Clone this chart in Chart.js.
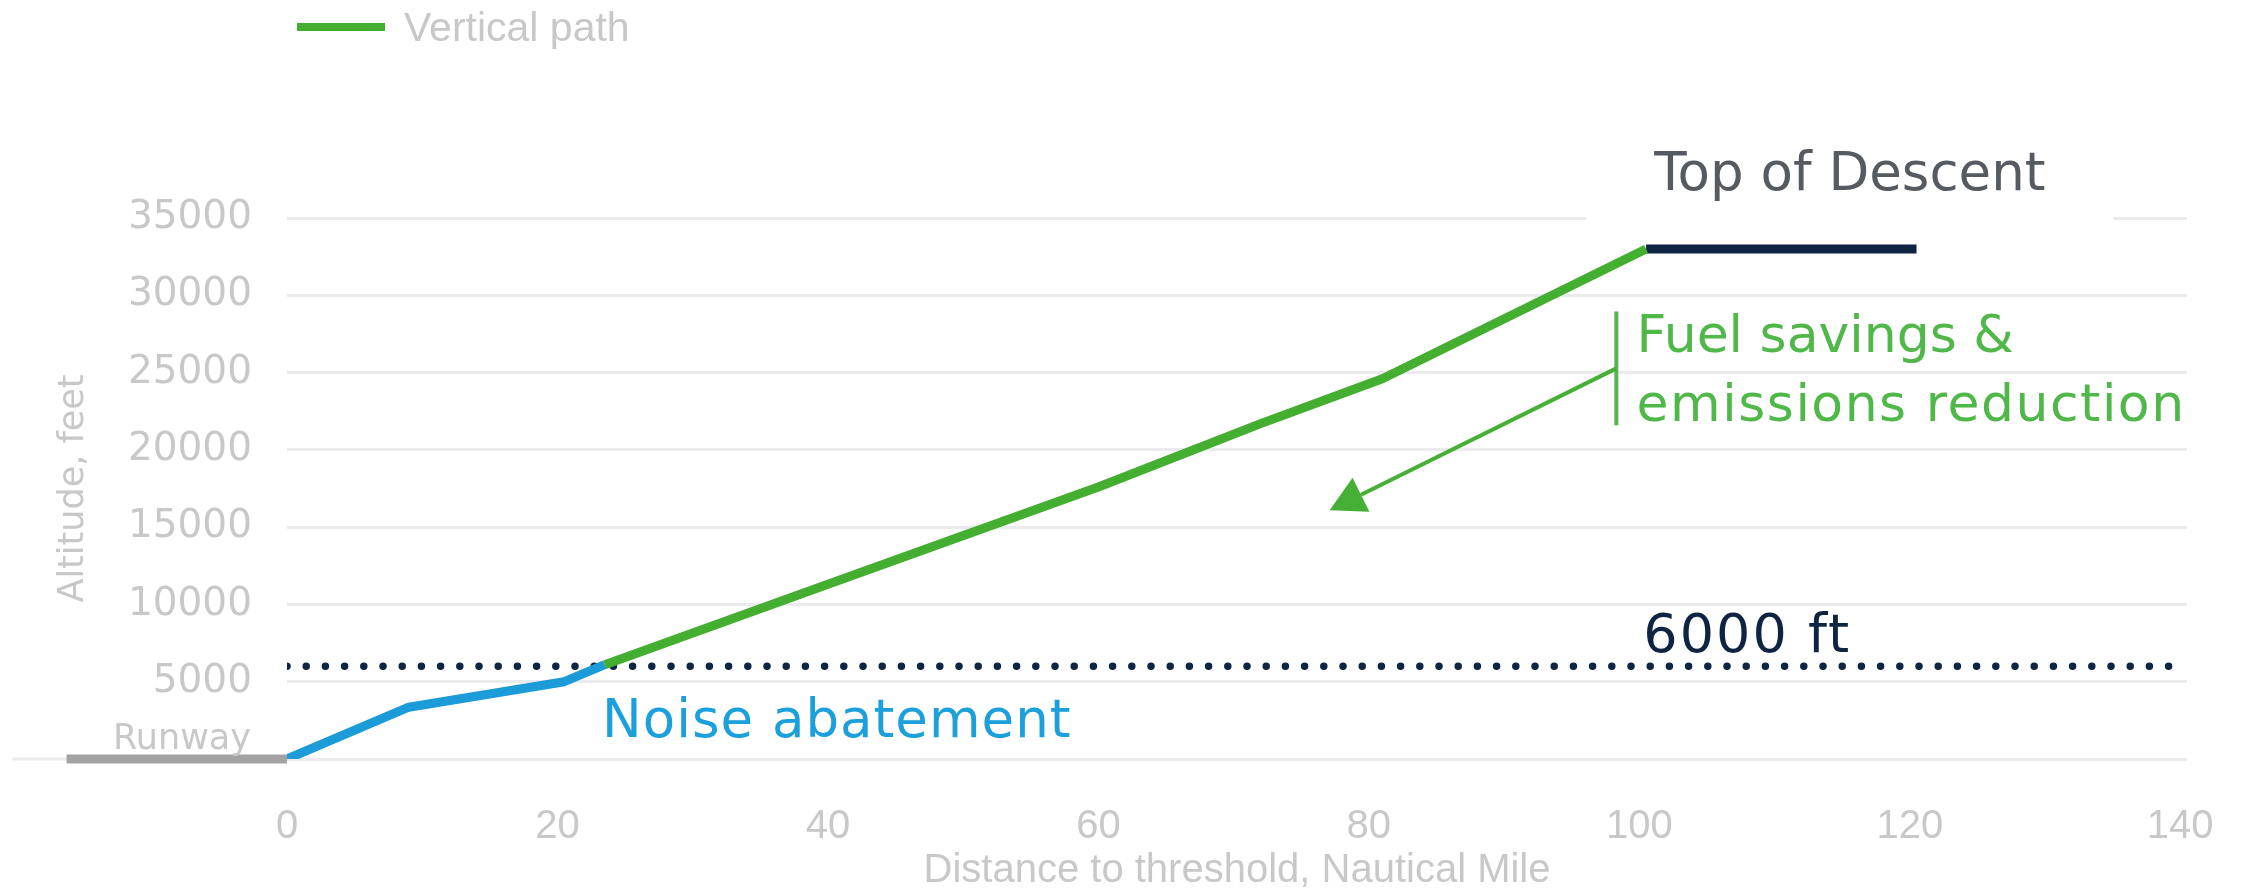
<!DOCTYPE html>
<html>
<head>
<meta charset="utf-8">
<title>Vertical path</title>
<script src="https://cdn.jsdelivr.net/npm/chart.js@4.4.1/dist/chart.umd.min.js"></script>
<style>
  html, body { margin: 0; padding: 0; background: #fff; }
  #wrap { width: 2246px; height: 889px; }
</style>
</head>
<body>
<div id="wrap"><canvas id="pathChart" width="2246" height="889"></canvas></div>
<script>
// distance to threshold (NM) / altitude (ft)
const climbDist = [23.5, 40, 60, 72, 81, 100.5];
const climbAlt = [6100, 11300, 17600, 21700, 24600, 33000];
const noiseDist = [0, 9, 20.5, 23.5];
const noiseAlt = [0, 3350, 5000, 6100];
const todDist = [100.5, 120.5];
const todAlt = [33000, 33000];
const runwayDist = [-16.3, 0];
const runwayAlt = [0, 0];
const limitDist = [0, 140.5];
const limitAlt = [6000, 6000];

const xTicks = [0, 20, 40, 60, 80, 100, 120, 140];
const yTicks = [0, 5000, 10000, 15000, 20000, 25000, 30000, 35000];

const GREEN = '#43ae2f';
const BLUE = '#1b9bd7';
const NAVY = '#0e2442';
const LIGHT = '#c8c8c8';

function points(xs, ys) {
    return xs.map((x, i) => ({ x: x, y: ys[i] }));
}

function drawText(ctx, text, x, y, font, color, align, spacing) {
    ctx.save();
    ctx.font = font;
    ctx.fillStyle = color;
    ctx.textAlign = align || 'left';
    ctx.textBaseline = 'alphabetic';
    if ('letterSpacing' in ctx) ctx.letterSpacing = (spacing || 0) + 'px';
    ctx.fillText(text, x, y);
    ctx.restore();
}

// labels, bracket and arrow placed in data units
const notes = {
    top: { x: 101.1, y: 36780 },
    limit: { x: 100.3, y: 6916 },
    noise: { x: 23.3, y: 1422 },
    fuel: { x: 99.8, y1: 26307, y2: 21847 },
    bracket: { x: 98.3, y1: 28957, y2: 21589 },
    arrow: { x1: 98.3, y1: 25273, x2: 77.1, y2: 16095 }
};

const annotations = {
    id: 'annotations',
    beforeDatasetsDraw(chart) {
        const ctx = chart.ctx;
        const xs = chart.scales.x, ys = chart.scales.y;
        const y0 = ys.getPixelForValue(0);
        // zero line runs on under the runway
        ctx.save();
        ctx.strokeStyle = '#ebebed';
        ctx.lineWidth = 3;
        ctx.beginPath();
        ctx.moveTo(xs.getPixelForValue(-20.3), y0);
        ctx.lineTo(chart.chartArea.left, y0);
        ctx.stroke();
        // white box behind the Top of Descent label
        ctx.fillStyle = '#fff';
        const tx = xs.getPixelForValue(notes.top.x);
        ctx.fillRect(tx - 68, ys.getPixelForValue(35000) - 6, 527, 12);
        ctx.restore();
    },
    afterDraw(chart) {
        const ctx = chart.ctx;
        const xs = chart.scales.x, ys = chart.scales.y;
        const px = v => xs.getPixelForValue(v);
        const py = v => ys.getPixelForValue(v);

        // legend
        const ds = chart.data.datasets[0];
        ctx.save();
        ctx.strokeStyle = ds.borderColor;
        ctx.lineWidth = 8;
        ctx.beginPath();
        ctx.moveTo(297, 27);
        ctx.lineTo(385, 27);
        ctx.stroke();
        ctx.restore();
        drawText(ctx, ds.label, 404, 41, '41px "Liberation Sans", Arial, sans-serif', LIGHT);

        // runway label beside the axis
        drawText(ctx, 'Runway', chart.chartArea.left - 36, py(0) - 10, '35px "DejaVu Sans", sans-serif', LIGHT, 'right');

        drawText(ctx, 'Top of Descent', px(notes.top.x), py(notes.top.y), '53px "DejaVu Sans", sans-serif', '#555b61');
        drawText(ctx, '6000 ft', px(notes.limit.x), py(notes.limit.y), '54px "DejaVu Sans", sans-serif', NAVY, 'left', 2);
        drawText(ctx, 'Noise abatement', px(notes.noise.x), py(notes.noise.y), '53px "DejaVu Sans", sans-serif', '#1ba0db', 'left', 1);
        drawText(ctx, 'Fuel savings &', px(notes.fuel.x), py(notes.fuel.y1), '52px "DejaVu Sans", sans-serif', '#4fb848', 'left', 0);
        drawText(ctx, 'emissions reduction', px(notes.fuel.x), py(notes.fuel.y2), '52px "DejaVu Sans", sans-serif', '#4fb848', 'left', 1.5);

        // bracket and arrow
        ctx.save();
        ctx.strokeStyle = '#58b450';
        ctx.lineWidth = 4;
        ctx.beginPath();
        ctx.moveTo(px(notes.bracket.x), py(notes.bracket.y1));
        ctx.lineTo(px(notes.bracket.x), py(notes.bracket.y2));
        ctx.stroke();

        const a = notes.arrow;
        const sx = px(a.x1), sy = py(a.y1), ex = px(a.x2), ey = py(a.y2);
        const len = Math.hypot(ex - sx, ey - sy);
        const ux = (ex - sx) / len, uy = (ey - sy) / len;
        const head = 35, half = 19;
        const bx = ex - ux * head, by = ey - uy * head;
        ctx.strokeStyle = '#45b035';
        ctx.beginPath();
        ctx.moveTo(sx, sy);
        ctx.lineTo(bx, by);
        ctx.stroke();
        ctx.fillStyle = '#45b035';
        ctx.beginPath();
        ctx.moveTo(ex, ey);
        ctx.lineTo(bx - uy * half, by + ux * half);
        ctx.lineTo(bx + uy * half, by - ux * half);
        ctx.closePath();
        ctx.fill();
        ctx.restore();
    }
};

const ctx = document.getElementById('pathChart').getContext('2d');
const chart = new Chart(ctx, {
    type: 'line',
    data: {
        datasets: [
            { label: 'Vertical path', data: points(climbDist, climbAlt), borderColor: GREEN, borderWidth: 9, order: 1 },
            { label: 'Noise abatement', data: points(noiseDist, noiseAlt), borderColor: BLUE, borderWidth: 9, order: 2 },
            { label: 'Top of Descent', data: points(todDist, todAlt), borderColor: NAVY, borderWidth: 9, order: 2 },
            { label: 'Runway', data: points(runwayDist, runwayAlt), borderColor: '#a3a3a3', borderWidth: 9, clip: false, order: 3 },
            { label: '6000 ft', data: points(limitDist, limitAlt), borderColor: NAVY, borderWidth: 7.5,
              borderDash: [0, 19.2], borderCapStyle: 'round', order: 4 }
        ]
    },
    options: {
        responsive: false,
        animation: false,
        layout: { padding: { top: 218, right: 59, left: 0, bottom: 0 } },
        elements: {
            point: { radius: 0 },
            line: { tension: 0, fill: false, borderJoinStyle: 'round' }
        },
        plugins: {
            legend: { display: false },
            tooltip: { enabled: false }
        },
        scales: {
            x: {
                type: 'linear',
                min: 0,
                max: 140.5,
                afterBuildTicks: s => { s.ticks = xTicks.map(v => ({ value: v })); },
                afterFit: s => {
                    s.height = 130;
                    s.paddingLeft = 0;
                    s.paddingRight = 0;
                },
                grid: { display: false, drawTicks: false },
                border: { display: false },
                ticks: {
                    padding: 44,
                    color: LIGHT,
                    font: { family: '"Liberation Sans", Arial, sans-serif', size: 40 }
                },
                title: {
                    display: true,
                    text: 'Distance to threshold, Nautical Mile',
                    color: LIGHT,
                    padding: 0,
                    font: { family: '"Liberation Sans", Arial, sans-serif', size: 40, lineHeight: 0.9 }
                }
            },
            y: {
                min: 0,
                max: 35000,
                afterBuildTicks: s => { s.ticks = yTicks.map(v => ({ value: v })); },
                afterFit: s => {
                    s.width = 287;
                    s.paddingTop = 0;
                    s.paddingBottom = 0;
                },
                grid: { color: '#ebebed', lineWidth: 3, drawTicks: false },
                border: { display: false },
                ticks: {
                    padding: 35,
                    color: LIGHT,
                    font: { family: '"DejaVu Sans", sans-serif', size: 39 },
                    callback: v => v === 0 ? '' : String(v)
                },
                title: {
                    display: true,
                    text: 'Altitude, feet',
                    color: LIGHT,
                    padding: { top: 53, bottom: 0 },
                    font: { family: '"DejaVu Sans", sans-serif', size: 35 }
                }
            }
        }
    },
    plugins: [annotations]
});
</script>
</body>
</html>
